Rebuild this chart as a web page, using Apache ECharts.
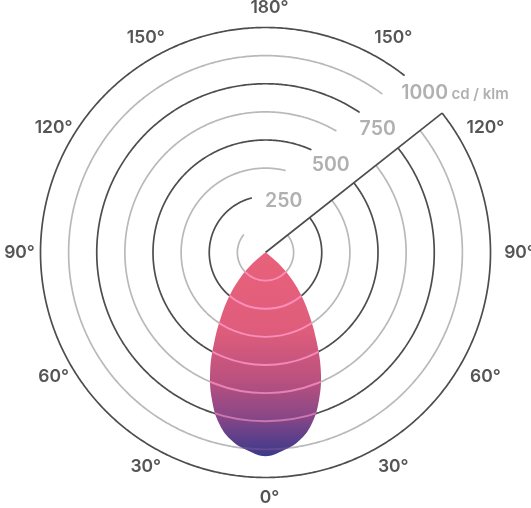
<!DOCTYPE html>
<html><head><meta charset="utf-8">
<script src="https://cdn.jsdelivr.net/npm/echarts@6/dist/echarts.min.js"></script>
<style>html,body{margin:0;padding:0;background:#fff}#c{width:531px;height:508px}</style>
</head><body><div id="c"></div>
<script>
// ---- data ----
const gammaAngles = [0,5,10,15,20,25,30,35,40,45,50,55,60,65,70,75,80,85,90,95,100,105,110,115,120,125,130,135,140,145,150,155,160,165,170,175,180];
const intensity   = [905,884,851,790,696,582,453,340,246,158,73,15,0,0,0,0,0,0,0,0,0,0,0,0,0,0,0,0,0,0,0,0,0,0,0,0,0];
const ringValues = [125,250,375,500,625,750,875,1000];
const ringLabelValues = [250,500,750,1000];
const ringLabelTexts = ['250','500','750','1000'];
const unitText = 'cd / klm';
const angleTickValues = [0,30,60,90,120,150,180,210,240,270,300,330];
const angleTickTexts = ['0','30','60','90','120','150','180','150','120','90','60','30'];

// ---- layout / style constants ----
const WEDGE_A = 231.7;
const RING_END_A = [129.8,166,193.8,204.1,210.3,213.9,216.4,218.2];
const DARK = '#4d4d4d', LIGHT = '#b9b9b9';
const OVER_ALPHA = [0.85,0.85,0.85,0.8,0.72,0.6,0.15,0];
const FONT = 'Inter, "Noto Sans", sans-serif';

const chart = echarts.init(document.getElementById('c'), null, {renderer:'canvas'});

function dist(a,b){return Math.hypot(a[0]-b[0],a[1]-b[1]);}

const gridSeries = {
  type:'custom', coordinateSystem:'polar', data:[[0,0]], silent:true, z:1,
  renderItem(params, api){
    const children = [];
    ringValues.forEach((v,i)=>{
      const pts = [];
      const end = RING_END_A[i] + 360;
      for (let a = WEDGE_A; a < end; a += 0.5) pts.push(api.coord([v, a % 360]));
      pts.push(api.coord([v, RING_END_A[i]]));
      children.push({type:'polyline', shape:{points:pts}, style:{stroke: i%2 ? DARK : LIGHT, lineWidth:1.7, fill:'none'}});
    });
    const c = api.coord([0,0]);
    const w = api.coord([ringValues[ringValues.length-1], WEDGE_A]);
    children.push({type:'line', shape:{x1:c[0],y1:c[1],x2:w[0],y2:w[1]}, style:{stroke:DARK, lineWidth:1.7}});
    return {type:'group', children};
  }
};

const beamSeries = {
  type:'custom', coordinateSystem:'polar', data:[[0,0]], silent:true, z:2,
  renderItem(params, api){
    const pts = [];
    for (let i=0;i<gammaAngles.length;i++) pts.push(api.coord([intensity[i], gammaAngles[i]]));
    for (let i=gammaAngles.length-2;i>=1;i--) pts.push(api.coord([intensity[i], 360-gammaAngles[i]]));
    const c = api.coord([0,0]);
    const grad = new echarts.graphic.LinearGradient(0,0,0,1,[
      {offset:0,color:'#e9617a'},{offset:0.38,color:'#df5d7b'},{offset:0.62,color:'#bb517f'},
      {offset:0.79,color:'#8e4886'},{offset:0.91,color:'#5e3f8a'},{offset:1,color:'#3c3a88'}]);
    const rings = ringValues.map((v,i)=>{
      const r = dist(api.coord([v,0]), c);
      return {type:'circle', shape:{cx:c[0],cy:c[1],r}, style:{fill:'none', stroke:'rgba(255,150,200,'+OVER_ALPHA[i]+')', lineWidth:1.9}};
    });
    return {type:'group', children:[
      {type:'polygon', shape:{points:pts, smooth:0.4}, style:{fill:grad}},
      {type:'group', clipPath:{type:'polygon', shape:{points:pts, smooth:0.4}}, children:rings}
    ]};
  }
};

const labelSeries = {
  type:'custom', coordinateSystem:'polar', data:[[0,0]], silent:true, z:3,
  renderItem(params, api){
    const children = [];
    const c = api.coord([0,0]);
    const R = dist(api.coord([1000,0]), c);
    const aStyle = {fill:'#555555', fontSize:17.5, fontFamily:FONT, fontWeight:600};
    angleTickValues.forEach((a,i)=>{
      const p = api.coord([1000, a]);
      const off = 20 + 5*Math.abs(Math.sin(a*Math.PI/180));
      const k = (R + off) / R;
      children.push({type:'text', x: c[0] + (p[0]-c[0])*k, y: c[1] + (p[1]-c[1])*k,
        style:{text:'{s|°}{n|'+angleTickTexts[i]+'}{d|°}', align:'center', verticalAlign:'middle',
          rich:{s:Object.assign({}, aStyle, {fill:'rgba(0,0,0,0)'}), n:aStyle, d:aStyle}}});
    });
    ringLabelValues.forEach((v,i)=>{
      const w = api.coord([v, WEDGE_A]);
      const t = (v-250)/750;
      const x = w[0] - 25.9 + 8.5*t, y = w[1] - 16.3 - 3.5*t;
      const last = i === ringLabelValues.length-1;
      const txt = last ? '{s|'+unitText+'} {n|'+ringLabelTexts[i]+'} {u|'+unitText+'}' : '{n|'+ringLabelTexts[i]+'}';
      children.push({type:'text', x, y, style:{text:txt, align:'center', verticalAlign:'middle',
        rich:{n:{fill:'#b0b0b0', fontSize:19.5, fontFamily:FONT, fontWeight:600, lineHeight:24},
              u:{fill:'#b0b0b0', fontSize:15, fontFamily:FONT, fontWeight:600, lineHeight:24, padding:[3,0,0,0]},
              s:{fill:'rgba(0,0,0,0)', fontSize:15, fontFamily:FONT, fontWeight:600, lineHeight:24, padding:[3,0,0,0]}}}});
    });
    return {type:'group', children};
  }
};

chart.setOption({
  animation:false,
  backgroundColor:'#ffffff',
  polar:{center:[265.5,252.5], radius:225},
  angleAxis:{type:'value', min:0, max:360, interval:30, startAngle:270, clockwise:true,
    axisLine:{show:false}, axisTick:{show:false}, splitLine:{show:false}, axisLabel:{show:false}},
  radiusAxis:{type:'value', min:0, max:1000, interval:125,
    axisLine:{show:false}, axisTick:{show:false}, splitLine:{show:false}, axisLabel:{show:false}},
  series:[gridSeries, beamSeries, labelSeries]
});
</script></body></html>
